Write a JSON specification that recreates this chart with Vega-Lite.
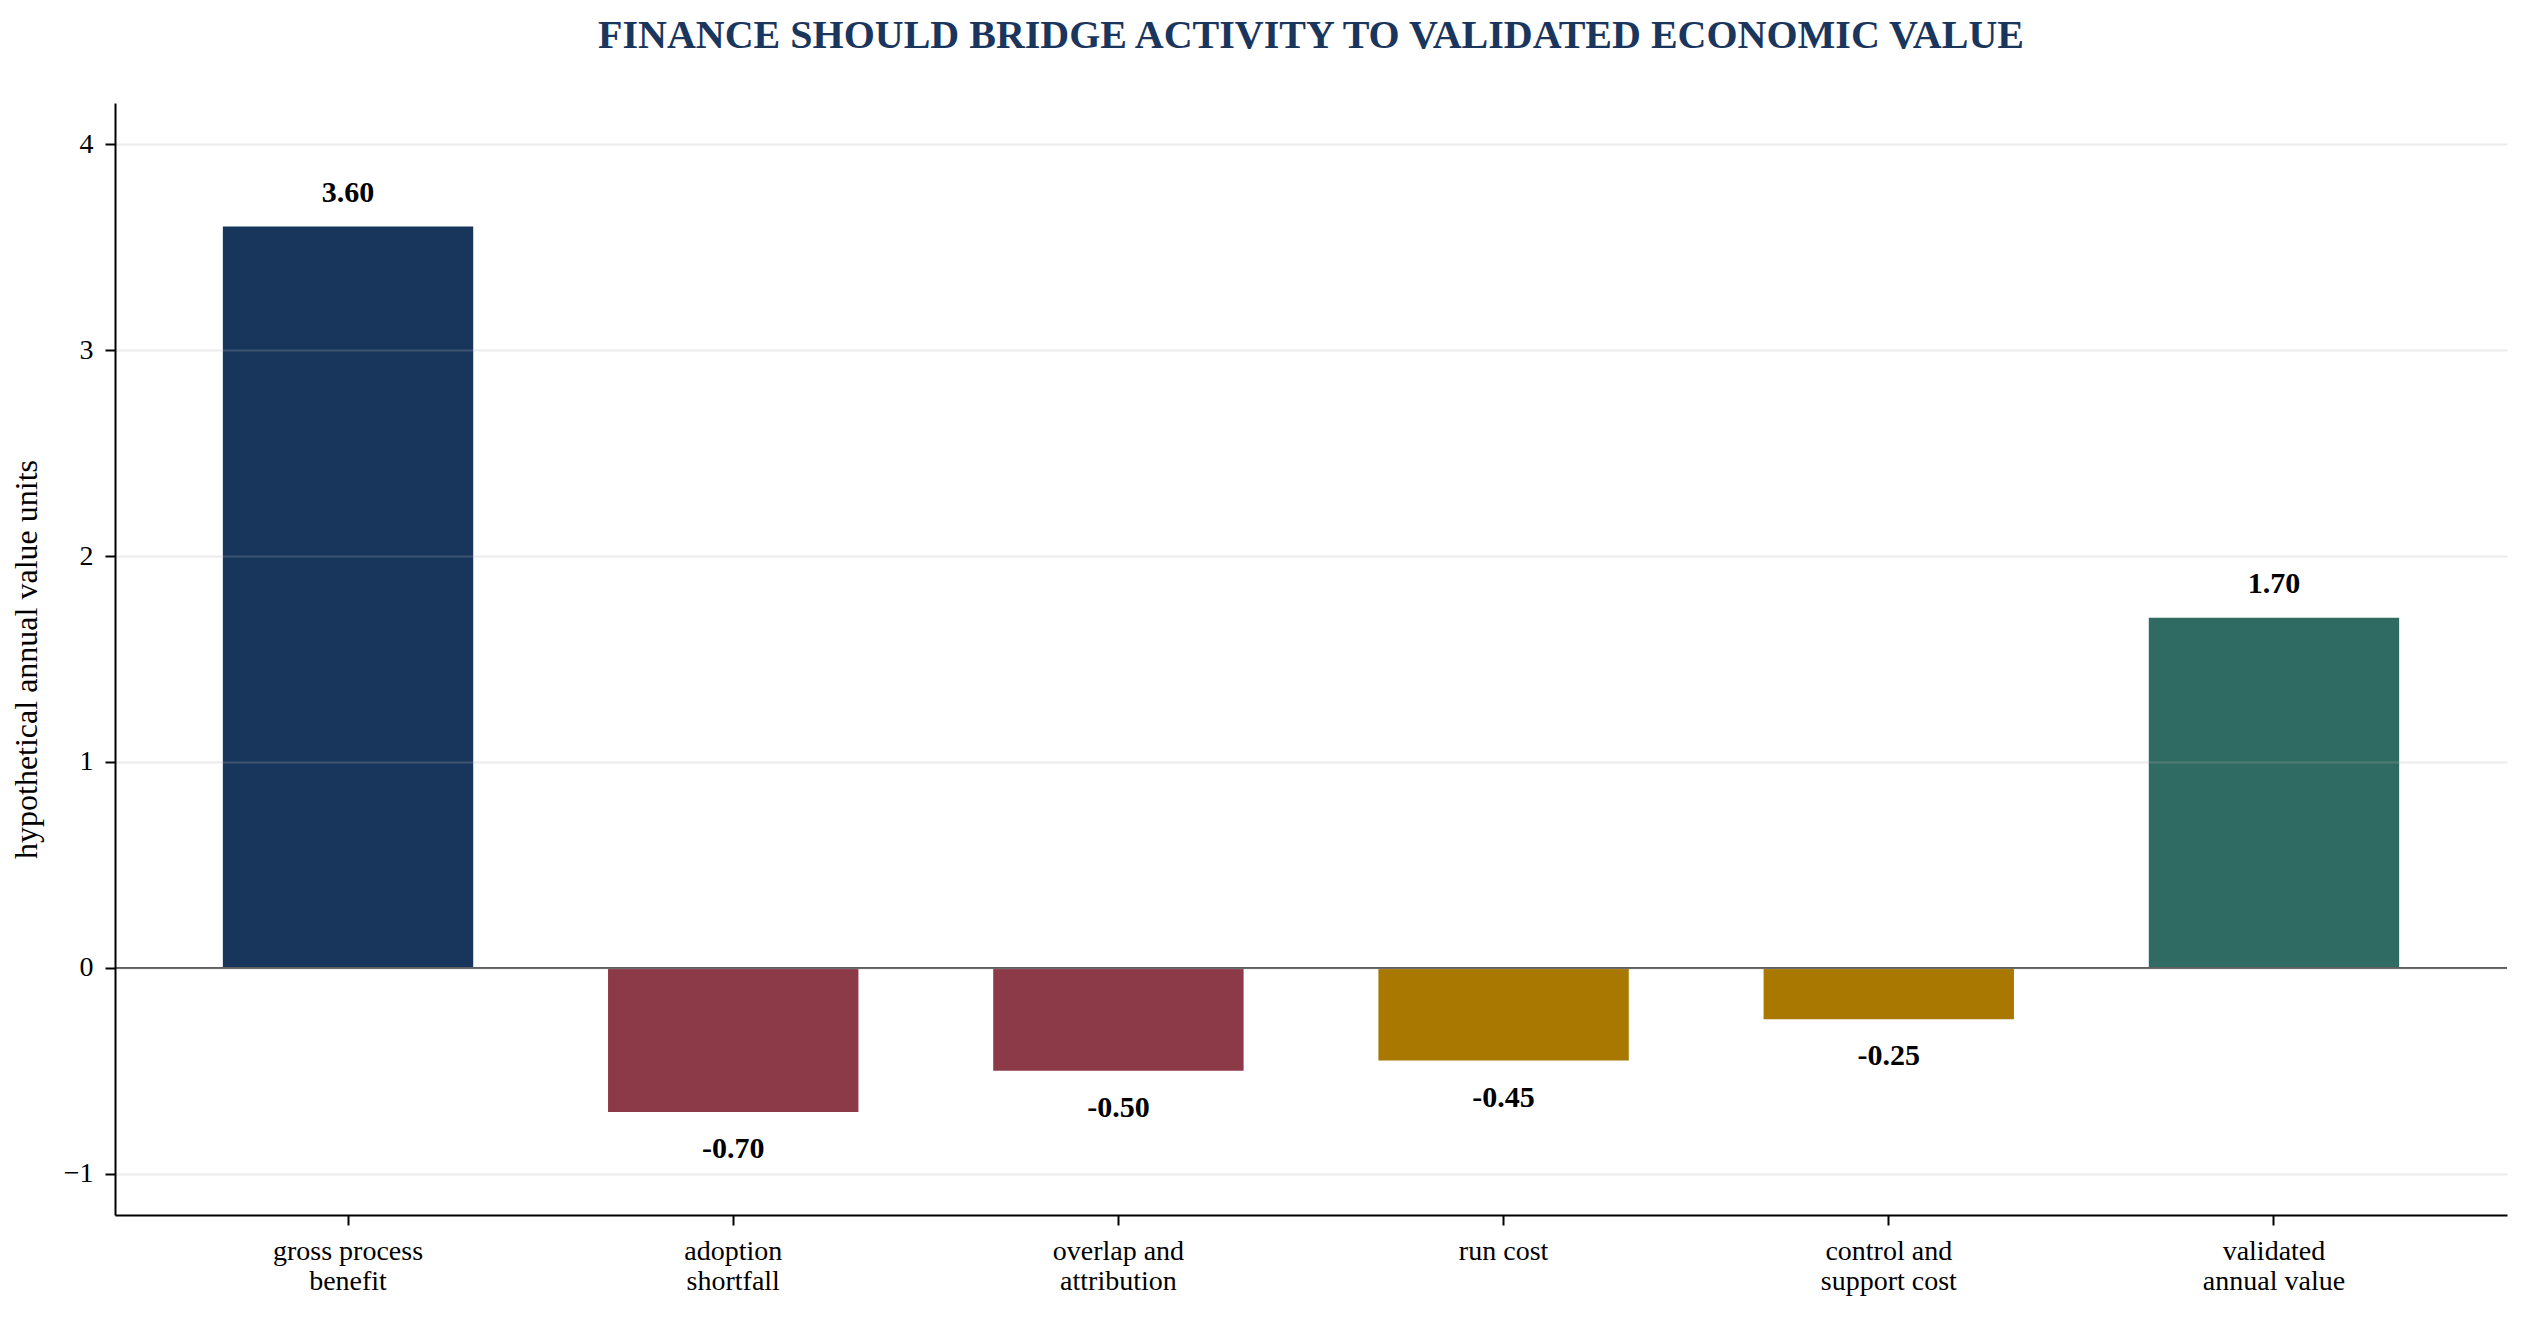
{
  "$schema": "https://vega.github.io/schema/vega-lite/v6.json",
  "autosize": {"type": "none"},
  "padding": {"left": 115, "top": 103, "right": 22, "bottom": 104},
  "width": 2392,
  "height": 1112,
  "title": {
    "text": "FINANCE SHOULD BRIDGE ACTIVITY TO VALIDATED ECONOMIC VALUE",
    "font": "Liberation Serif",
    "fontSize": 40,
    "fontWeight": "bold",
    "color": "#1b365d",
    "anchor": "middle",
    "frame": "group",
    "baseline": "alphabetic",
    "offset": 15
  },
  "data": {
    "values": [
      {"item": "gross process\nbenefit", "value": 3.6, "kind": "gross"},
      {"item": "adoption\nshortfall", "value": -0.7, "kind": "leakage"},
      {"item": "overlap and\nattribution", "value": -0.5, "kind": "leakage"},
      {"item": "run cost", "value": -0.45, "kind": "cost"},
      {"item": "control and\nsupport cost", "value": -0.25, "kind": "cost"},
      {"item": "validated\nannual value", "value": 1.7, "kind": "net"}
    ]
  },
  "transform": [
    {"calculate": "replace(format(datum.value, '.2f'), '\u2212', '-')", "as": "label"}
  ],
  "encoding": {
    "x": {
      "field": "item",
      "type": "nominal",
      "sort": null,
      "title": null,
      "scale": {"paddingInner": 0.35, "paddingOuter": 0.28},
      "axis": {
        "labelExpr": "split(datum.label, '\\n')",
        "labelAngle": 0,
        "labelFontSize": 28,
        "labelLineHeight": 30,
        "labelPadding": 12,
        "labelColor": "#000000",
        "domainColor": "#000000",
        "domainWidth": 2,
        "tickColor": "#000000",
        "tickWidth": 2,
        "tickSize": 10,
        "grid": false
      }
    }
  },
  "layer": [
    {
      "mark": {"type": "bar"},
      "encoding": {
        "y": {
          "field": "value",
          "type": "quantitative",
          "title": "hypothetical annual value units",
          "scale": {"domain": [-1.2, 4.2], "nice": false, "zero": false},
          "axis": {
            "values": [-1, 0, 1, 2, 3, 4],
            "format": "d",
            "zindex": 1,
            "labelFontSize": 28,
            "labelPadding": 12,
            "labelColor": "#000000",
            "titleFontSize": 32,
            "titleFontWeight": "normal",
            "titleColor": "#000000",
            "titlePadding": 20,
            "domainColor": "#000000",
            "domainWidth": 2,
            "tickColor": "#000000",
            "tickWidth": 2,
            "tickSize": 10,
            "grid": true,
            "gridColor": "#b0b0b0",
            "gridOpacity": 0.25,
            "gridWidth": 2
          }
        },
        "color": {
          "field": "kind",
          "type": "nominal",
          "legend": null,
          "scale": {
            "domain": ["gross", "leakage", "cost", "net"],
            "range": ["#18365c", "#8c3a48", "#a87800", "#2f6b62"]
          }
        }
      }
    },
    {
      "data": {"values": [{}]},
      "mark": {"type": "rule", "color": "#555555", "strokeWidth": 2},
      "encoding": {"y": {"datum": 0, "type": "quantitative"}, "x": {"value": 0}, "x2": {"value": 2392}}
    },
    {
      "transform": [{"filter": "datum.value >= 0"}],
      "mark": {"type": "text", "fontSize": 30, "fontWeight": "bold", "baseline": "alphabetic", "dy": -25, "color": "#000000"},
      "encoding": {
        "y": {"field": "value", "type": "quantitative"},
        "text": {"field": "label"}
      }
    },
    {
      "transform": [{"filter": "datum.value < 0"}],
      "mark": {"type": "text", "fontSize": 30, "fontWeight": "bold", "baseline": "alphabetic", "dy": 46, "color": "#000000"},
      "encoding": {
        "y": {"field": "value", "type": "quantitative"},
        "text": {"field": "label"}
      }
    }
  ],
  "config": {
    "font": "Liberation Serif",
    "view": {"stroke": null},
    "axis": {"labelFont": "Liberation Serif", "titleFont": "Liberation Serif"}
  }
}
